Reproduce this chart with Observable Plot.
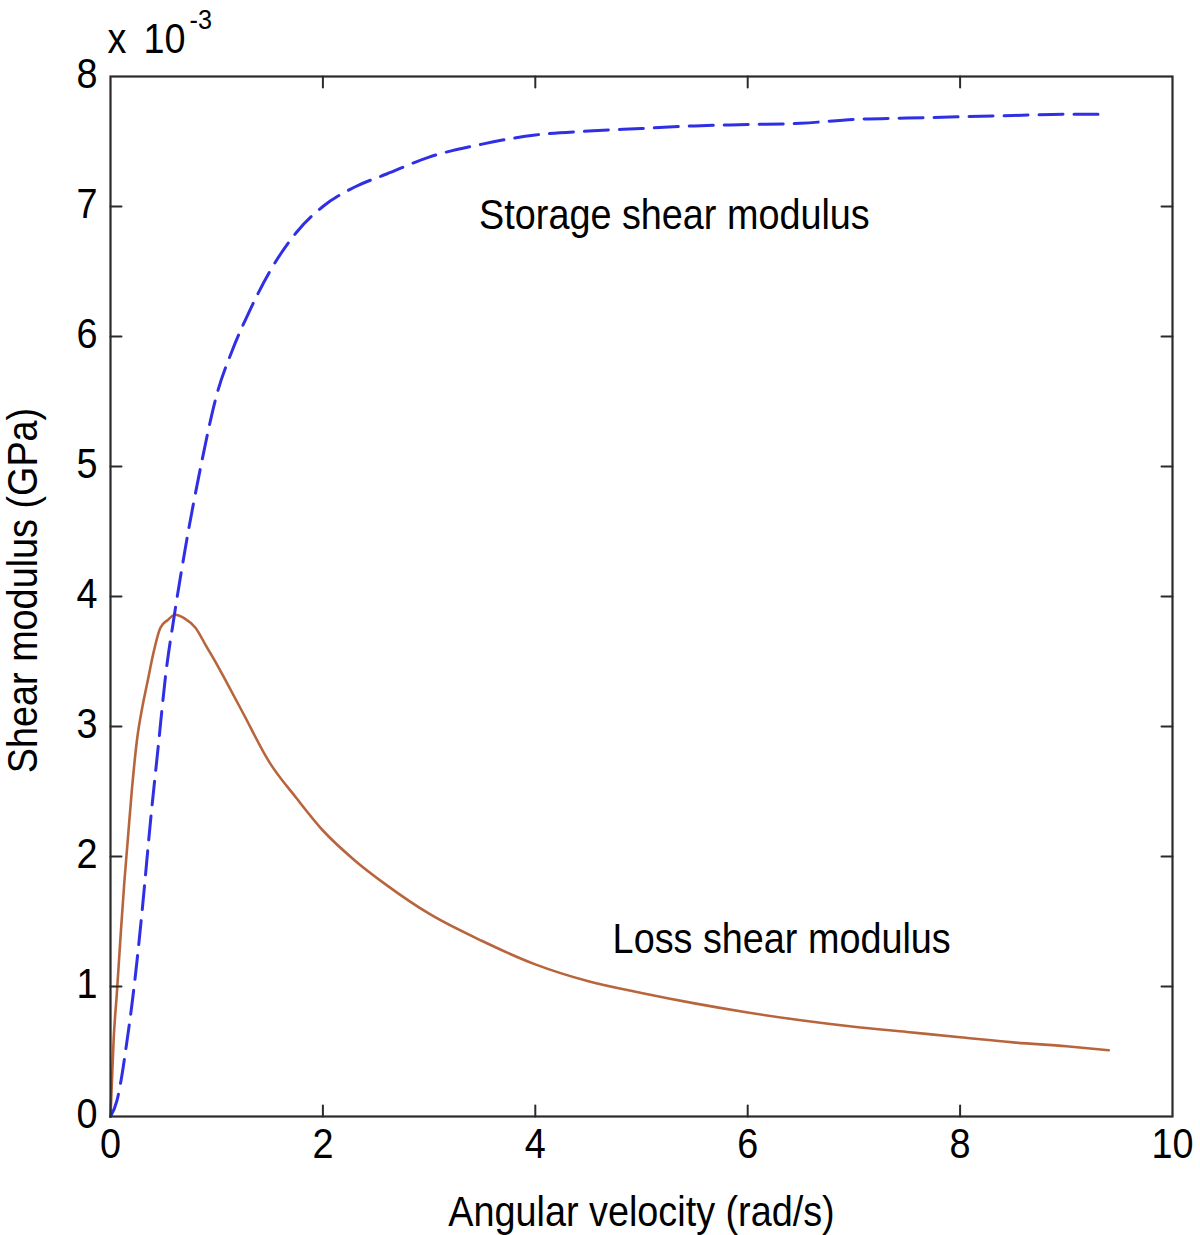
<!DOCTYPE html>
<html>
<head>
<meta charset="utf-8">
<script src="https://cdn.jsdelivr.net/npm/d3@7"></script>
<script src="https://cdn.jsdelivr.net/npm/@observablehq/plot@0.6"></script>
<style>
  html, body { margin: 0; padding: 0; background: #fff; }
  #chart svg { display: block; }
</style>
</head>
<body>
<div id="chart"></div>
<script>
// Angular velocity (rad/s) and shear moduli (in units of 1e-3 GPa)
const storageX = [0, 0.06, 0.1, 0.15, 0.2, 0.25, 0.3, 0.38, 0.45, 0.52, 0.6, 0.7, 0.85, 1.0, 1.15, 1.3, 1.5, 1.75, 2.0, 2.3, 2.6, 3.0, 3.5, 4.0, 4.5, 5.0, 5.5, 6.0, 6.5, 7.0, 7.5, 8.0, 8.5, 9.0, 9.4];
const storageY = [0, 0.12, 0.28, 0.55, 0.85, 1.2, 1.6, 2.3, 2.85, 3.4, 3.85, 4.35, 5.0, 5.55, 5.9, 6.18, 6.5, 6.8, 7.0, 7.15, 7.25, 7.38, 7.48, 7.55, 7.58, 7.6, 7.62, 7.63, 7.64, 7.67, 7.68, 7.69, 7.7, 7.71, 7.71];

const lossX = [0, 0.03, 0.06, 0.1, 0.13, 0.16, 0.2, 0.25, 0.3, 0.35, 0.4, 0.47, 0.54, 0.61, 0.7, 0.8, 0.9, 1.0, 1.1, 1.25, 1.5, 1.75, 2.0, 2.3, 2.6, 3.0, 3.5, 4.0, 4.5, 5.0, 5.5, 6.0, 6.5, 7.0, 7.5, 8.0, 8.5, 9.0, 9.4];
const lossY = [0, 0.6, 0.95, 1.45, 1.8, 2.1, 2.5, 2.9, 3.15, 3.35, 3.55, 3.76, 3.82, 3.86, 3.83, 3.76, 3.62, 3.48, 3.33, 3.1, 2.72, 2.45, 2.2, 1.97, 1.78, 1.56, 1.35, 1.17, 1.04, 0.95, 0.87, 0.8, 0.74, 0.69, 0.65, 0.61, 0.57, 0.54, 0.51];

const xTicks = [0, 2, 4, 6, 8, 10];
const yTicks = [0, 1, 2, 3, 4, 5, 6, 7, 8];

const curveLabels = [
  {x: 5.31, y: 6.93, text: "Storage shear modulus"},
  {x: 6.32, y: 1.36, text: "Loss shear modulus"}
];
const xLabel = "Angular velocity (rad/s)";
const yLabel = "Shear modulus (GPa)";
const expTimes = "x";
const expBase = "10";
const expPow = "-3";

const storage = storageX.map((x, i) => ({x, y: storageY[i]}));
const loss = lossX.map((x, i) => ({x, y: lossY[i]}));

const FONT = "'Liberation Sans', Arial, Helvetica, sans-serif";
const tickShape = {draw(context, l) { context.moveTo(0, 0); context.lineTo(0, -l); }};
const tickLen = 11;
const axisColor = "#2b2b2b";
const FS = 42;

const chart = Plot.plot({
  width: 1200,
  height: 1235,
  marginLeft: 110,
  marginRight: 28,
  marginTop: 76,
  marginBottom: 119,
  style: {fontFamily: FONT, background: "#fff", color: "#000"},
  x: {domain: [0, 10]},
  y: {domain: [0, 8]},
  marks: [
    Plot.line(loss, {x: "x", y: "y", stroke: "#b8653d", strokeWidth: 2.6, curve: "monotone-x"}),
    Plot.line(storage, {x: "x", y: "y", stroke: "#2f2fe6", strokeWidth: 3, strokeDasharray: "24,11", curve: "monotone-x"}),
    Plot.frame({stroke: axisColor, strokeWidth: 2.2}),
    // inward ticks on all four sides
    Plot.vector(xTicks.slice(1, -1), {x: d => d, y: 0, length: tickLen, rotate: 0, anchor: "start", shape: tickShape, stroke: axisColor, strokeWidth: 2}),
    Plot.vector(xTicks.slice(1, -1), {x: d => d, y: 8, length: tickLen, rotate: 180, anchor: "start", shape: tickShape, stroke: axisColor, strokeWidth: 2}),
    Plot.vector(yTicks.slice(1, -1), {x: 0, y: d => d, length: tickLen, rotate: 90, anchor: "start", shape: tickShape, stroke: axisColor, strokeWidth: 2}),
    Plot.vector(yTicks.slice(1, -1), {x: 10, y: d => d, length: tickLen, rotate: -90, anchor: "start", shape: tickShape, stroke: axisColor, strokeWidth: 2}),
    Plot.axisX(xTicks, {tickSize: 0, tickPadding: 12, fontSize: FS, label: null, fill: "#000", tickFormat: d => String(d)}),
    Plot.axisY(yTicks, {tickSize: 0, tickPadding: 13, fontSize: FS, label: null, fill: "#000", dy: -2, tickFormat: d => String(d)}),
    Plot.text(curveLabels, {x: "x", y: "y", text: "text", fontSize: FS, fill: "#000", textAnchor: "middle"}),
    Plot.text([xLabel], {frameAnchor: "bottom", text: d => d, dy: 109, fontSize: FS, fill: "#000", textAnchor: "middle"}),
    Plot.text([yLabel], {frameAnchor: "left", text: d => d, dx: -87, dy: -6, rotate: -90, fontSize: FS, fill: "#000", textAnchor: "middle", lineAnchor: "middle"}),
    Plot.text([expTimes], {frameAnchor: "top-left", text: d => d, dx: -3, dy: -53, fontSize: FS, textAnchor: "start", lineAnchor: "top", fill: "#000"}),
    Plot.text([expBase], {frameAnchor: "top-left", text: d => d, dx: 33, dy: -53, fontSize: FS, textAnchor: "start", lineAnchor: "top", fill: "#000"}),
    Plot.text([expPow], {frameAnchor: "top-left", text: d => d, dx: 79, dy: -67, fontSize: 28, textAnchor: "start", lineAnchor: "top", fill: "#000"})
  ]
});

// The reference's typeface is slightly condensed: squeeze every text horizontally around its anchor.
const SX = 0.9;
chart.querySelectorAll("text").forEach(t => {
  const x = +t.getAttribute("x") || 0, y = +t.getAttribute("y") || 0;
  const tr = t.getAttribute("transform") || "";
  t.setAttribute("transform", `${tr} translate(${x},${y}) scale(${SX},1) translate(${-x},${-y})`);
});

document.getElementById("chart").appendChild(chart);
</script>
</body>
</html>
